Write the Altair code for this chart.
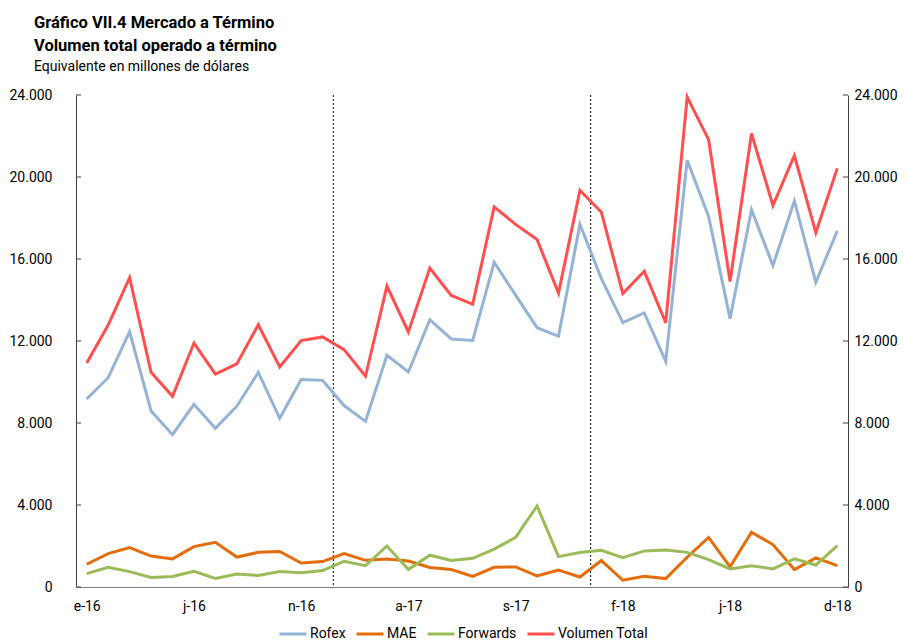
import altair as alt
import pandas as pd

meses = ["e-16", "f-16", "m-16", "a-16", "m-16", "j-16", "j-16", "a-16", "s-16", "o-16", "n-16", "d-16",
         "e-17", "f-17", "m-17", "a-17", "m-17", "j-17", "j-17", "a-17", "s-17", "o-17", "n-17", "d-17",
         "e-18", "f-18", "m-18", "a-18", "m-18", "j-18", "j-18", "a-18", "s-18", "o-18", "n-18", "d-18"]

rofex = [9170, 10210, 12460, 8590, 7430, 8910, 7740, 8820, 10470, 8230, 10120, 10080,
         8850, 8080, 11300, 10490, 13040, 12100, 12030, 15840, 14240, 12650, 12230, 17690,
         15040, 12900, 13370, 11010, 20820, 18080, 13090, 18410, 15680, 18830, 14860, 17370]
mae = [1110, 1630, 1920, 1510, 1370, 1970, 2180, 1460, 1690, 1730, 1170, 1240,
       1630, 1300, 1370, 1270, 950, 850, 520, 960, 980, 540, 830, 490,
       1290, 330, 520, 410, 1450, 2420, 980, 2670, 2070, 850, 1420, 1040]
forwards = [650, 960, 750, 460, 510, 770, 420, 630, 560, 750, 700, 800,
            1250, 1040, 2000, 850, 1550, 1290, 1400, 1850, 2420, 3950, 1480, 1680,
            1790, 1430, 1760, 1810, 1690, 1340, 880, 1040, 880, 1370, 1070, 2020]
total = [10930, 12780, 15090, 10470, 9300, 11900, 10380, 10880, 12790, 10730, 12020, 12200,
         11580, 10280, 14680, 12440, 15560, 14220, 13790, 18540, 17690, 16950, 14340, 19350,
         18280, 14310, 15400, 12890, 23900, 21820, 14900, 22120, 18610, 21050, 17290, 20420]

series = ["Rofex", "MAE", "Forwards", "Volumen Total"]
colores = ["#95B3D7", "#E46C0A", "#9BBB59", "#FF4F4F"]
y_ticks = [0, 4000, 8000, 12000, 16000, 20000, 24000]
x_ticks = list(range(0, len(meses), 5))

W, H = 772, 492
FONT = "Roboto"

rows = []
for name, vals in zip(series, [rofex, mae, forwards, total]):
    for i, v in enumerate(vals):
        rows.append({"idx": i, "mes": meses[i], "serie": name, "valor": v})
df = pd.DataFrame(rows)

# year boundaries (between December and January)
cortes = pd.DataFrame({"pos": [i - 0.5 for i in range(1, len(meses)) if meses[i][-2:] != meses[i - 1][-2:]]})
ticks_df = pd.DataFrame({"v": y_ticks})

x_label_expr = "".join("datum.value == %d ? '%s' : " % (t, meses[t]) for t in x_ticks) + "''"
xscale = alt.Scale(domain=[-0.5, len(meses) - 0.5], nice=False, zero=False)
yscale = alt.Scale(domain=[0, 24000], nice=False)
ylabel = "replace(format(datum.value, ','), ',', '.')"

x_axis = alt.Axis(values=x_ticks, labelExpr=x_label_expr, ticks=False,
                  grid=False, title=None, domainColor="#808080", domainWidth=1,
                  labelFont=FONT, labelFontSize=14, labelColor="#000000", labelPadding=12,
                  labelOverlap=False)

lines = alt.Chart(df).mark_line(strokeWidth=3).encode(
    x=alt.X("idx:Q", scale=xscale, axis=x_axis),
    y=alt.Y("valor:Q", scale=yscale,
            axis=alt.Axis(orient="left", values=y_ticks, labelExpr=ylabel, ticks=False, grid=False,
                          title=None, domainColor="#404040", labelFont=FONT, labelFontSize=14,
                          labelColor="#000000", labelPadding=24)),
    color=alt.Color("serie:N", scale=alt.Scale(domain=series, range=colores), sort=series,
                    legend=alt.Legend(orient="none", legendX=202, legendY=524, direction="horizontal",
                                      title=None, labelFont=FONT, labelFontSize=14, labelColor="#000000",
                                      symbolType="stroke", symbolSize=729, symbolStrokeWidth=3,
                                      labelOffset=2, columnPadding=4)),
    detail="serie:N",
    order="idx:Q",
)

dashed = alt.Chart(cortes).mark_rule(color="#000000", strokeWidth=1, strokeDash=[2, 2]).encode(
    x=alt.X("pos:Q", scale=xscale, axis=x_axis)
)

left_ticks = alt.Chart(ticks_df).mark_rule(color="#404040", strokeWidth=1).encode(
    y=alt.Y("v:Q", scale=yscale, axis=None),
    x=alt.value(0), x2=alt.value(5),
)

right_ticks = alt.Chart(ticks_df).mark_rule(color="#404040", strokeWidth=1).encode(
    y=alt.Y("v:Q", scale=yscale,
            axis=alt.Axis(orient="right", values=y_ticks, labelExpr=ylabel, ticks=False, grid=False,
                          title=None, domainColor="#404040", labelFont=FONT, labelFontSize=14,
                          labelColor="#000000", labelPadding=6)),
    x=alt.value(W - 5), x2=alt.value(W),
)

chart = alt.layer(dashed, lines, left_ticks, right_ticks).resolve_scale(y="independent").properties(
    width=W, height=H,
    padding={"left": 0, "right": 0, "top": 6, "bottom": 0},
    title=alt.TitleParams(
        text=["Gráfico VII.4 Mercado a Término", "Volumen total operado a término"],
        subtitle="Equivalente en millones de dólares",
        anchor="start", font=FONT, fontSize=16.5, fontWeight="bold", color="#000000",
        lineHeight=23, subtitleFont=FONT, subtitleFontSize=14, subtitleColor="#000000",
        subtitlePadding=6, dx=25, offset=14,
    ),
).configure_view(stroke=None)

chart.save("out.html", embed_options={"renderer": "svg", "actions": False})
